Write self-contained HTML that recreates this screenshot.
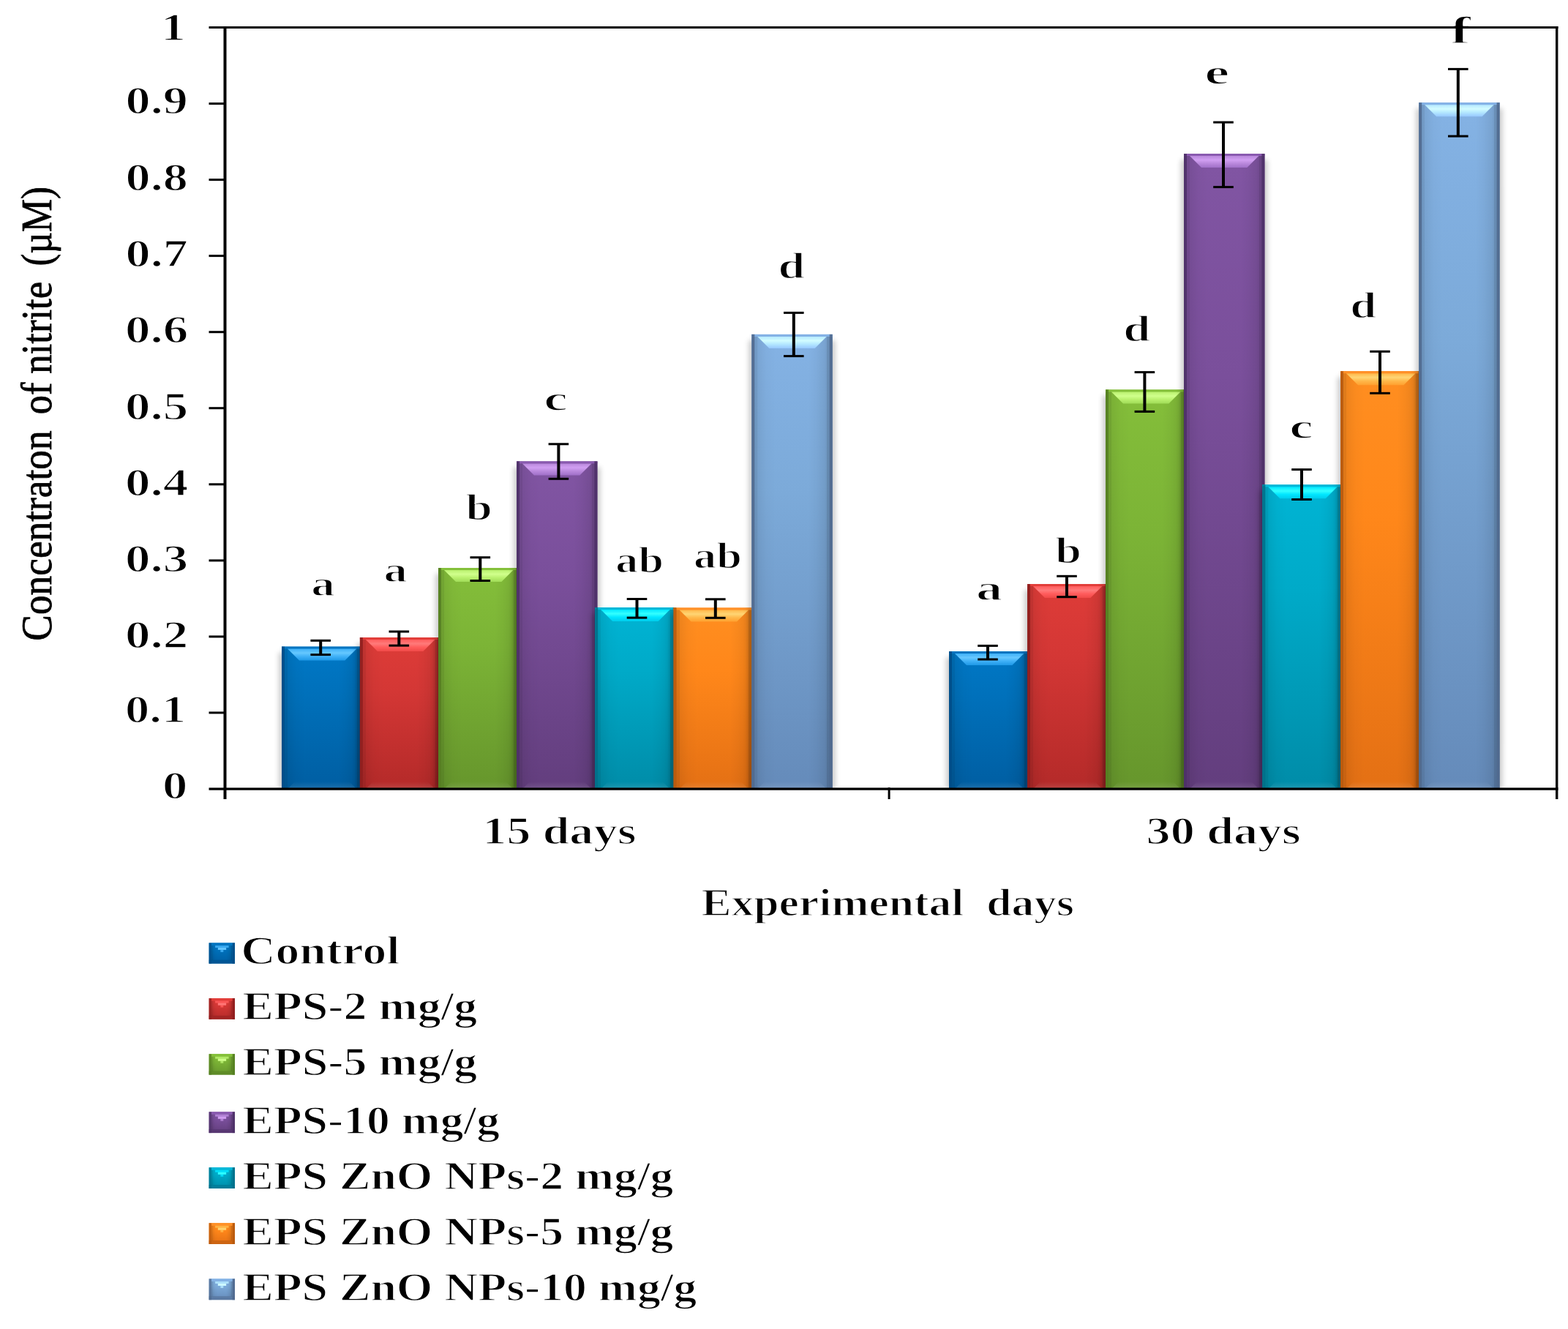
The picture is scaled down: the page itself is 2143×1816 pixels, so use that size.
<!DOCTYPE html>
<html><head><meta charset="utf-8"><title>Concentration of nitrite chart</title>
<style>
html,body{margin:0;padding:0;background:#fff;}
body{width:2143px;height:1816px;overflow:hidden;}
svg{display:block;}
text{font-family:"Liberation Serif","Times New Roman",serif;fill:#000;}
text.t{stroke:#fff;stroke-width:1.4px;stroke-linejoin:round;}
text.y{stroke:#000;stroke-width:0.7px;}
</style></head><body>
<svg width="2143" height="1816" viewBox="0 0 2143 1816">
<rect x="0" y="0" width="2143" height="1816" fill="#fff"/>
<defs>
<linearGradient id="v_blue" x1="0" y1="0" x2="0" y2="1"><stop offset="0" stop-color="#0078c6"/><stop offset="0.35" stop-color="#0070ba"/><stop offset="1" stop-color="#005ea2"/></linearGradient>
<linearGradient id="bv_blue" x1="0" y1="0" x2="0" y2="1"><stop offset="0" stop-color="#3fb0f7"/><stop offset="0.35" stop-color="#66c8ff"/><stop offset="0.65" stop-color="#3fb0f7"/><stop offset="1" stop-color="#1e98e6"/></linearGradient>
<linearGradient id="v_red" x1="0" y1="0" x2="0" y2="1"><stop offset="0" stop-color="#de3c38"/><stop offset="0.35" stop-color="#d43735"/><stop offset="1" stop-color="#b42a29"/></linearGradient>
<linearGradient id="bv_red" x1="0" y1="0" x2="0" y2="1"><stop offset="0" stop-color="#ff5c5c"/><stop offset="0.35" stop-color="#ff7a7a"/><stop offset="0.65" stop-color="#ff5c5c"/><stop offset="1" stop-color="#f04a48"/></linearGradient>
<linearGradient id="v_green" x1="0" y1="0" x2="0" y2="1"><stop offset="0" stop-color="#84be3a"/><stop offset="0.35" stop-color="#7cb436"/><stop offset="1" stop-color="#66962c"/></linearGradient>
<linearGradient id="bv_green" x1="0" y1="0" x2="0" y2="1"><stop offset="0" stop-color="#b9f06e"/><stop offset="0.35" stop-color="#d0ff8c"/><stop offset="0.65" stop-color="#b9f06e"/><stop offset="1" stop-color="#a0dc58"/></linearGradient>
<linearGradient id="v_purple" x1="0" y1="0" x2="0" y2="1"><stop offset="0" stop-color="#8155a3"/><stop offset="0.35" stop-color="#7a4f9b"/><stop offset="1" stop-color="#633e7e"/></linearGradient>
<linearGradient id="bv_purple" x1="0" y1="0" x2="0" y2="1"><stop offset="0" stop-color="#b988dc"/><stop offset="0.35" stop-color="#d19ff2"/><stop offset="0.65" stop-color="#b988dc"/><stop offset="1" stop-color="#a070c8"/></linearGradient>
<linearGradient id="v_cyan" x1="0" y1="0" x2="0" y2="1"><stop offset="0" stop-color="#00b4d4"/><stop offset="0.35" stop-color="#00aac8"/><stop offset="1" stop-color="#008ca8"/></linearGradient>
<linearGradient id="bv_cyan" x1="0" y1="0" x2="0" y2="1"><stop offset="0" stop-color="#00e6ff"/><stop offset="0.35" stop-color="#33ffff"/><stop offset="0.65" stop-color="#00e6ff"/><stop offset="1" stop-color="#00ccec"/></linearGradient>
<linearGradient id="v_orange" x1="0" y1="0" x2="0" y2="1"><stop offset="0" stop-color="#ff8e20"/><stop offset="0.35" stop-color="#ff871a"/><stop offset="1" stop-color="#e47014"/></linearGradient>
<linearGradient id="bv_orange" x1="0" y1="0" x2="0" y2="1"><stop offset="0" stop-color="#ffb84a"/><stop offset="0.35" stop-color="#ffd574"/><stop offset="0.65" stop-color="#ffb84a"/><stop offset="1" stop-color="#ffa030"/></linearGradient>
<linearGradient id="v_lblue" x1="0" y1="0" x2="0" y2="1"><stop offset="0" stop-color="#84b2e4"/><stop offset="0.35" stop-color="#7caad9"/><stop offset="1" stop-color="#658bba"/></linearGradient>
<linearGradient id="bv_lblue" x1="0" y1="0" x2="0" y2="1"><stop offset="0" stop-color="#b4e8ff"/><stop offset="0.35" stop-color="#d2fcff"/><stop offset="0.65" stop-color="#b4e8ff"/><stop offset="1" stop-color="#98c8ff"/></linearGradient>
<linearGradient id="hshade" x1="0" y1="0" x2="1" y2="0">
<stop offset="0.036" stop-color="#000" stop-opacity="0.13"/>
<stop offset="0.072" stop-color="#000" stop-opacity="0.13"/>
<stop offset="0.075" stop-color="#000" stop-opacity="0.07"/>
<stop offset="0.18" stop-color="#000" stop-opacity="0.02"/>
<stop offset="0.3" stop-color="#000" stop-opacity="0"/>
<stop offset="0.7" stop-color="#000" stop-opacity="0"/>
<stop offset="0.8" stop-color="#000" stop-opacity="0.03"/>
<stop offset="0.9" stop-color="#000" stop-opacity="0.08"/>
<stop offset="0.93" stop-color="#000" stop-opacity="0.12"/>
<stop offset="0.932" stop-color="#000" stop-opacity="0.2"/>
<stop offset="0.965" stop-color="#000" stop-opacity="0.2"/>
</linearGradient>
<linearGradient id="bbev" x1="0" y1="0" x2="0" y2="1"><stop offset="0" stop-color="#fff" stop-opacity="0"/><stop offset="1" stop-color="#fff" stop-opacity="0.12"/></linearGradient>
<filter id="shadow" x="-0.2" y="-0.05" width="1.4" height="1.1"><feGaussianBlur stdDeviation="3.5"/></filter>
<clipPath id="plotclip"><rect x="309" y="39" width="1817" height="1037.5"/></clipPath>
</defs>
<rect x="381.0" y="891.6" width="118.4" height="186.4" fill="#000" opacity="0.2" filter="url(#shadow)" clip-path="url(#plotclip)"/>
<rect x="385.0" y="883.6" width="110.4" height="194.4" fill="url(#v_blue)"/>
<rect x="385.0" y="883.6" width="110.4" height="194.4" fill="url(#hshade)"/>
<rect x="385.0" y="883.6" width="110.4" height="3" fill="#0074c0"/>
<polygon points="393.0,886.6 487.4,886.6 471.4,902.6 409.0,902.6" fill="url(#bv_blue)"/>
<polygon points="403.0,1068.0 477.4,1068.0 487.4,1078.0 393.0,1078.0" fill="url(#bbev)"/>
<rect x="385.0" y="883.6" width="4" height="194.4" fill="#004e88" opacity="0.9"/>
<rect x="491.4" y="883.6" width="4" height="194.4" fill="#004e88" opacity="0.9"/>
<rect x="487.9" y="879.0" width="118.4" height="199.0" fill="#000" opacity="0.2" filter="url(#shadow)" clip-path="url(#plotclip)"/>
<rect x="491.9" y="871.0" width="110.4" height="207.0" fill="url(#v_red)"/>
<rect x="491.9" y="871.0" width="110.4" height="207.0" fill="url(#hshade)"/>
<rect x="491.9" y="871.0" width="110.4" height="3" fill="#e23e3a"/>
<polygon points="499.9,874.0 594.3,874.0 578.3,890.0 515.9,890.0" fill="url(#bv_red)"/>
<polygon points="509.9,1068.0 584.3,1068.0 594.3,1078.0 499.9,1078.0" fill="url(#bbev)"/>
<rect x="491.9" y="871.0" width="4" height="207.0" fill="#8f1f1f" opacity="0.9"/>
<rect x="598.3" y="871.0" width="4" height="207.0" fill="#8f1f1f" opacity="0.9"/>
<rect x="595.0" y="784.0" width="118.4" height="294.0" fill="#000" opacity="0.2" filter="url(#shadow)" clip-path="url(#plotclip)"/>
<rect x="599.0" y="776.0" width="110.4" height="302.0" fill="url(#v_green)"/>
<rect x="599.0" y="776.0" width="110.4" height="302.0" fill="url(#hshade)"/>
<rect x="599.0" y="776.0" width="110.4" height="3" fill="#84c03a"/>
<polygon points="607.0,779.0 701.4,779.0 685.4,795.0 623.0,795.0" fill="url(#bv_green)"/>
<polygon points="617.0,1068.0 691.4,1068.0 701.4,1078.0 607.0,1078.0" fill="url(#bbev)"/>
<rect x="599.0" y="776.0" width="4" height="302.0" fill="#557f22" opacity="0.9"/>
<rect x="705.4" y="776.0" width="4" height="302.0" fill="#557f22" opacity="0.9"/>
<rect x="702.0" y="638.4" width="118.4" height="439.6" fill="#000" opacity="0.2" filter="url(#shadow)" clip-path="url(#plotclip)"/>
<rect x="706.0" y="630.4" width="110.4" height="447.6" fill="url(#v_purple)"/>
<rect x="706.0" y="630.4" width="110.4" height="447.6" fill="url(#hshade)"/>
<rect x="706.0" y="630.4" width="110.4" height="3" fill="#8a5ab0"/>
<polygon points="714.0,633.4 808.4,633.4 792.4,649.4 730.0,649.4" fill="url(#bv_purple)"/>
<polygon points="724.0,1068.0 798.4,1068.0 808.4,1078.0 714.0,1078.0" fill="url(#bbev)"/>
<rect x="706.0" y="630.4" width="4" height="447.6" fill="#4e3168" opacity="0.9"/>
<rect x="812.4" y="630.4" width="4" height="447.6" fill="#4e3168" opacity="0.9"/>
<rect x="809.2" y="838.0" width="118.4" height="240.0" fill="#000" opacity="0.2" filter="url(#shadow)" clip-path="url(#plotclip)"/>
<rect x="813.2" y="830.0" width="110.4" height="248.0" fill="url(#v_cyan)"/>
<rect x="813.2" y="830.0" width="110.4" height="248.0" fill="url(#hshade)"/>
<rect x="813.2" y="830.0" width="110.4" height="3" fill="#00b8d8"/>
<polygon points="821.2,833.0 915.6,833.0 899.6,849.0 837.2,849.0" fill="url(#bv_cyan)"/>
<polygon points="831.2,1068.0 905.6,1068.0 915.6,1078.0 821.2,1078.0" fill="url(#bbev)"/>
<rect x="813.2" y="830.0" width="4" height="248.0" fill="#00708a" opacity="0.9"/>
<rect x="919.6" y="830.0" width="4" height="248.0" fill="#00708a" opacity="0.9"/>
<rect x="916.6" y="838.5" width="118.4" height="239.5" fill="#000" opacity="0.2" filter="url(#shadow)" clip-path="url(#plotclip)"/>
<rect x="920.6" y="830.5" width="110.4" height="247.5" fill="url(#v_orange)"/>
<rect x="920.6" y="830.5" width="110.4" height="247.5" fill="url(#hshade)"/>
<rect x="920.6" y="830.5" width="110.4" height="3" fill="#ff9028"/>
<polygon points="928.6,833.5 1023.0,833.5 1007.0,849.5 944.6,849.5" fill="url(#bv_orange)"/>
<polygon points="938.6,1068.0 1013.0,1068.0 1023.0,1078.0 928.6,1078.0" fill="url(#bbev)"/>
<rect x="920.6" y="830.5" width="4" height="247.5" fill="#b85a0e" opacity="0.9"/>
<rect x="1027.0" y="830.5" width="4" height="247.5" fill="#b85a0e" opacity="0.9"/>
<rect x="1023.3" y="464.9" width="118.4" height="613.1" fill="#000" opacity="0.2" filter="url(#shadow)" clip-path="url(#plotclip)"/>
<rect x="1027.3" y="456.9" width="110.4" height="621.1" fill="url(#v_lblue)"/>
<rect x="1027.3" y="456.9" width="110.4" height="621.1" fill="url(#hshade)"/>
<rect x="1027.3" y="456.9" width="110.4" height="3" fill="#84b2e6"/>
<polygon points="1035.3,459.9 1129.7,459.9 1113.7,475.9 1051.3,475.9" fill="url(#bv_lblue)"/>
<polygon points="1045.3,1068.0 1119.7,1068.0 1129.7,1078.0 1035.3,1078.0" fill="url(#bbev)"/>
<rect x="1027.3" y="456.9" width="4" height="621.1" fill="#50698e" opacity="0.9"/>
<rect x="1133.7" y="456.9" width="4" height="621.1" fill="#50698e" opacity="0.9"/>
<rect x="1293.0" y="898.0" width="118.4" height="180.0" fill="#000" opacity="0.2" filter="url(#shadow)" clip-path="url(#plotclip)"/>
<rect x="1297.0" y="890.0" width="110.4" height="188.0" fill="url(#v_blue)"/>
<rect x="1297.0" y="890.0" width="110.4" height="188.0" fill="url(#hshade)"/>
<rect x="1297.0" y="890.0" width="110.4" height="3" fill="#0074c0"/>
<polygon points="1305.0,893.0 1399.4,893.0 1383.4,909.0 1321.0,909.0" fill="url(#bv_blue)"/>
<polygon points="1315.0,1068.0 1389.4,1068.0 1399.4,1078.0 1305.0,1078.0" fill="url(#bbev)"/>
<rect x="1297.0" y="890.0" width="4" height="188.0" fill="#004e88" opacity="0.9"/>
<rect x="1403.4" y="890.0" width="4" height="188.0" fill="#004e88" opacity="0.9"/>
<rect x="1400.0" y="806.0" width="118.4" height="272.0" fill="#000" opacity="0.2" filter="url(#shadow)" clip-path="url(#plotclip)"/>
<rect x="1404.0" y="798.0" width="110.4" height="280.0" fill="url(#v_red)"/>
<rect x="1404.0" y="798.0" width="110.4" height="280.0" fill="url(#hshade)"/>
<rect x="1404.0" y="798.0" width="110.4" height="3" fill="#e23e3a"/>
<polygon points="1412.0,801.0 1506.4,801.0 1490.4,817.0 1428.0,817.0" fill="url(#bv_red)"/>
<polygon points="1422.0,1068.0 1496.4,1068.0 1506.4,1078.0 1412.0,1078.0" fill="url(#bbev)"/>
<rect x="1404.0" y="798.0" width="4" height="280.0" fill="#8f1f1f" opacity="0.9"/>
<rect x="1510.4" y="798.0" width="4" height="280.0" fill="#8f1f1f" opacity="0.9"/>
<rect x="1507.0" y="540.5" width="118.4" height="537.5" fill="#000" opacity="0.2" filter="url(#shadow)" clip-path="url(#plotclip)"/>
<rect x="1511.0" y="532.5" width="110.4" height="545.5" fill="url(#v_green)"/>
<rect x="1511.0" y="532.5" width="110.4" height="545.5" fill="url(#hshade)"/>
<rect x="1511.0" y="532.5" width="110.4" height="3" fill="#84c03a"/>
<polygon points="1519.0,535.5 1613.4,535.5 1597.4,551.5 1535.0,551.5" fill="url(#bv_green)"/>
<polygon points="1529.0,1068.0 1603.4,1068.0 1613.4,1078.0 1519.0,1078.0" fill="url(#bbev)"/>
<rect x="1511.0" y="532.5" width="4" height="545.5" fill="#557f22" opacity="0.9"/>
<rect x="1617.4" y="532.5" width="4" height="545.5" fill="#557f22" opacity="0.9"/>
<rect x="1614.0" y="218.1" width="118.4" height="859.9" fill="#000" opacity="0.2" filter="url(#shadow)" clip-path="url(#plotclip)"/>
<rect x="1618.0" y="210.1" width="110.4" height="867.9" fill="url(#v_purple)"/>
<rect x="1618.0" y="210.1" width="110.4" height="867.9" fill="url(#hshade)"/>
<rect x="1618.0" y="210.1" width="110.4" height="3" fill="#8a5ab0"/>
<polygon points="1626.0,213.1 1720.4,213.1 1704.4,229.1 1642.0,229.1" fill="url(#bv_purple)"/>
<polygon points="1636.0,1068.0 1710.4,1068.0 1720.4,1078.0 1626.0,1078.0" fill="url(#bbev)"/>
<rect x="1618.0" y="210.1" width="4" height="867.9" fill="#4e3168" opacity="0.9"/>
<rect x="1724.4" y="210.1" width="4" height="867.9" fill="#4e3168" opacity="0.9"/>
<rect x="1721.3" y="670.3" width="118.4" height="407.7" fill="#000" opacity="0.2" filter="url(#shadow)" clip-path="url(#plotclip)"/>
<rect x="1725.3" y="662.3" width="110.4" height="415.7" fill="url(#v_cyan)"/>
<rect x="1725.3" y="662.3" width="110.4" height="415.7" fill="url(#hshade)"/>
<rect x="1725.3" y="662.3" width="110.4" height="3" fill="#00b8d8"/>
<polygon points="1733.3,665.3 1827.7,665.3 1811.7,681.3 1749.3,681.3" fill="url(#bv_cyan)"/>
<polygon points="1743.3,1068.0 1817.7,1068.0 1827.7,1078.0 1733.3,1078.0" fill="url(#bbev)"/>
<rect x="1725.3" y="662.3" width="4" height="415.7" fill="#00708a" opacity="0.9"/>
<rect x="1831.7" y="662.3" width="4" height="415.7" fill="#00708a" opacity="0.9"/>
<rect x="1828.0" y="515.2" width="118.4" height="562.8" fill="#000" opacity="0.2" filter="url(#shadow)" clip-path="url(#plotclip)"/>
<rect x="1832.0" y="507.2" width="110.4" height="570.8" fill="url(#v_orange)"/>
<rect x="1832.0" y="507.2" width="110.4" height="570.8" fill="url(#hshade)"/>
<rect x="1832.0" y="507.2" width="110.4" height="3" fill="#ff9028"/>
<polygon points="1840.0,510.2 1934.4,510.2 1918.4,526.2 1856.0,526.2" fill="url(#bv_orange)"/>
<polygon points="1850.0,1068.0 1924.4,1068.0 1934.4,1078.0 1840.0,1078.0" fill="url(#bbev)"/>
<rect x="1832.0" y="507.2" width="4" height="570.8" fill="#b85a0e" opacity="0.9"/>
<rect x="1938.4" y="507.2" width="4" height="570.8" fill="#b85a0e" opacity="0.9"/>
<rect x="1935.2" y="148.2" width="118.4" height="929.8" fill="#000" opacity="0.2" filter="url(#shadow)" clip-path="url(#plotclip)"/>
<rect x="1939.2" y="140.2" width="110.4" height="937.8" fill="url(#v_lblue)"/>
<rect x="1939.2" y="140.2" width="110.4" height="937.8" fill="url(#hshade)"/>
<rect x="1939.2" y="140.2" width="110.4" height="3" fill="#84b2e6"/>
<polygon points="1947.2,143.2 2041.6,143.2 2025.6,159.2 1963.2,159.2" fill="url(#bv_lblue)"/>
<polygon points="1957.2,1068.0 2031.6,1068.0 2041.6,1078.0 1947.2,1078.0" fill="url(#bbev)"/>
<rect x="1939.2" y="140.2" width="4" height="937.8" fill="#50698e" opacity="0.9"/>
<rect x="2045.6" y="140.2" width="4" height="937.8" fill="#50698e" opacity="0.9"/>
<text class="t" x="220.02" y="55.20" font-size="53" font-weight="bold" textLength="33.92" lengthAdjust="spacingAndGlyphs">1</text>
<text class="t" x="171.52" y="155.34" font-size="53" font-weight="bold" textLength="85.36" lengthAdjust="spacingAndGlyphs">0.9</text>
<text class="t" x="171.52" y="259.54" font-size="53" font-weight="bold" textLength="85.36" lengthAdjust="spacingAndGlyphs">0.8</text>
<text class="t" x="171.52" y="364.04" font-size="53" font-weight="bold" textLength="85.36" lengthAdjust="spacingAndGlyphs">0.7</text>
<text class="t" x="170.99" y="468.34" font-size="53" font-weight="bold" textLength="86.32" lengthAdjust="spacingAndGlyphs">0.6</text>
<text class="t" x="170.99" y="572.64" font-size="53" font-weight="bold" textLength="86.32" lengthAdjust="spacingAndGlyphs">0.5</text>
<text class="t" x="170.99" y="677.04" font-size="53" font-weight="bold" textLength="86.32" lengthAdjust="spacingAndGlyphs">0.4</text>
<text class="t" x="170.99" y="781.44" font-size="53" font-weight="bold" textLength="86.32" lengthAdjust="spacingAndGlyphs">0.3</text>
<text class="t" x="170.99" y="885.44" font-size="53" font-weight="bold" textLength="86.32" lengthAdjust="spacingAndGlyphs">0.2</text>
<text class="t" x="171.09" y="987.24" font-size="53" font-weight="bold" textLength="83.08" lengthAdjust="spacingAndGlyphs">0.1</text>
<text class="t" x="222.10" y="1091.44" font-size="53" font-weight="bold" textLength="34.40" lengthAdjust="spacingAndGlyphs">0</text>
<text class="t" x="425.20" y="813.82" font-size="48.1" font-weight="bold" textLength="32.56" lengthAdjust="spacingAndGlyphs">a</text>
<text class="t" x="524.41" y="794.82" font-size="47.9" font-weight="bold" textLength="32.33" lengthAdjust="spacingAndGlyphs">a</text>
<text class="t" x="636.60" y="709.58" font-size="51.7" font-weight="bold" textLength="36.32" lengthAdjust="spacingAndGlyphs">b</text>
<text class="t" x="743.15" y="560.62" font-size="47.7" font-weight="bold" textLength="32.55" lengthAdjust="spacingAndGlyphs">c</text>
<text class="t" x="841.39" y="781.89" font-size="50.6" font-weight="bold" textLength="65.51" lengthAdjust="spacingAndGlyphs">ab</text>
<text class="t" x="947.98" y="776.29" font-size="51.1" font-weight="bold" textLength="65.83" lengthAdjust="spacingAndGlyphs">ab</text>
<text class="t" x="1063.61" y="380.40" font-size="50.3" font-weight="bold" textLength="36.71" lengthAdjust="spacingAndGlyphs">d</text>
<text class="t" x="1333.98" y="819.92" font-size="47.9" font-weight="bold" textLength="36.22" lengthAdjust="spacingAndGlyphs">a</text>
<text class="t" x="1442.21" y="769.48" font-size="51.7" font-weight="bold" textLength="35.67" lengthAdjust="spacingAndGlyphs">b</text>
<text class="t" x="1535.28" y="465.78" font-size="51.6" font-weight="bold" textLength="37.16" lengthAdjust="spacingAndGlyphs">d</text>
<text class="t" x="1646.25" y="114.82" font-size="48.1" font-weight="bold" textLength="34.03" lengthAdjust="spacingAndGlyphs">e</text>
<text class="t" x="1762.37" y="598.81" font-size="48.5" font-weight="bold" textLength="32.33" lengthAdjust="spacingAndGlyphs">c</text>
<text class="t" x="1845.26" y="434.08" font-size="51.7" font-weight="bold" textLength="36.05" lengthAdjust="spacingAndGlyphs">d</text>
<text class="t" x="1981.80" y="58.72" font-size="51.9" font-weight="bold" textLength="28.37" lengthAdjust="spacingAndGlyphs">f</text>
<text class="t" x="659.59" y="1152.60" font-size="53" font-weight="bold" textLength="210.13" lengthAdjust="spacingAndGlyphs">15 days</text>
<text class="t" x="1566.61" y="1152.50" font-size="53" font-weight="bold" textLength="211.22" lengthAdjust="spacingAndGlyphs">30 days</text>
<text class="t" x="958.52" y="1250.60" font-size="53" font-weight="bold" textLength="509.35" lengthAdjust="spacingAndGlyphs">Experimental&#160;&#160;days</text>
<text class="y" transform="translate(70,873.5) rotate(-90) scale(1,1.1)" x="-2.13" y="0" font-size="54" textLength="287.26" lengthAdjust="spacingAndGlyphs">Concentraton</text>
<text class="y" transform="translate(70,564.1) rotate(-90) scale(1,1.1)" x="-2.10" y="0" font-size="54" textLength="43.77" lengthAdjust="spacingAndGlyphs">of</text>
<text class="y" transform="translate(70,509.7) rotate(-90) scale(1,1.1)" x="-1.05" y="0" font-size="54" textLength="125.87" lengthAdjust="spacingAndGlyphs">nitrite</text>
<text class="y" transform="translate(70,361.4) rotate(-90) scale(1,1.1)" x="-2.03" y="0" font-size="54" textLength="108.34" lengthAdjust="spacingAndGlyphs">(µM)</text>
<rect x="285.6" y="1288.4" width="35.4" height="28.3" fill="url(#v_blue)"/>
<rect x="289.1" y="1291.9" width="28.4" height="20.3" fill="url(#hshade)"/>
<rect x="285.6" y="1288.4" width="3.5" height="28.3" fill="#004e88" opacity="0.75"/>
<rect x="317.5" y="1288.4" width="3.5" height="28.3" fill="#004e88" opacity="0.95"/>
<rect x="289.1" y="1288.4" width="28.4" height="3.5" fill="#0074c0" opacity="0.9"/>
<rect x="285.6" y="1311.7" width="35.4" height="5" fill="#004e88" opacity="0.55"/>
<polygon points="294.1,1291.9 312.6,1291.9 312.6,1294.9 309.1,1294.9 309.1,1297.9 305.3,1297.9 305.3,1300.9 301.4,1300.9 301.4,1297.9 297.9,1297.9 297.9,1294.9 294.1,1294.9" fill="#3fb0f7" opacity="0.85"/>
<rect x="297.9" y="1294.9" width="11.2" height="3" fill="#66c8ff" opacity="0.9"/>
<text class="t" x="329.17" y="1317.20" font-size="54" font-weight="bold" textLength="217.26" lengthAdjust="spacingAndGlyphs">Control</text>
<rect x="285.6" y="1364.1" width="35.4" height="28.7" fill="url(#v_red)"/>
<rect x="289.1" y="1367.6" width="28.4" height="20.7" fill="url(#hshade)"/>
<rect x="285.6" y="1364.1" width="3.5" height="28.7" fill="#8f1f1f" opacity="0.75"/>
<rect x="317.5" y="1364.1" width="3.5" height="28.7" fill="#8f1f1f" opacity="0.95"/>
<rect x="289.1" y="1364.1" width="28.4" height="3.5" fill="#e23e3a" opacity="0.9"/>
<rect x="285.6" y="1387.8" width="35.4" height="5" fill="#8f1f1f" opacity="0.55"/>
<polygon points="294.1,1367.6 312.6,1367.6 312.6,1370.6 309.1,1370.6 309.1,1373.6 305.3,1373.6 305.3,1376.6 301.4,1376.6 301.4,1373.6 297.9,1373.6 297.9,1370.6 294.1,1370.6" fill="#ff5c5c" opacity="0.85"/>
<rect x="297.9" y="1370.6" width="11.2" height="3" fill="#ff7a7a" opacity="0.9"/>
<text class="t" x="331.17" y="1393.30" font-size="54" font-weight="bold" textLength="321.09" lengthAdjust="spacingAndGlyphs">EPS-2 mg/g</text>
<rect x="285.6" y="1440.2" width="35.4" height="28.4" fill="url(#v_green)"/>
<rect x="289.1" y="1443.7" width="28.4" height="20.4" fill="url(#hshade)"/>
<rect x="285.6" y="1440.2" width="3.5" height="28.4" fill="#557f22" opacity="0.75"/>
<rect x="317.5" y="1440.2" width="3.5" height="28.4" fill="#557f22" opacity="0.95"/>
<rect x="289.1" y="1440.2" width="28.4" height="3.5" fill="#84c03a" opacity="0.9"/>
<rect x="285.6" y="1463.6" width="35.4" height="5" fill="#557f22" opacity="0.55"/>
<polygon points="294.1,1443.7 312.6,1443.7 312.6,1446.7 309.1,1446.7 309.1,1449.7 305.3,1449.7 305.3,1452.7 301.4,1452.7 301.4,1449.7 297.9,1449.7 297.9,1446.7 294.1,1446.7" fill="#b9f06e" opacity="0.85"/>
<rect x="297.9" y="1446.7" width="11.2" height="3" fill="#d0ff8c" opacity="0.9"/>
<text class="t" x="331.17" y="1469.10" font-size="54" font-weight="bold" textLength="321.09" lengthAdjust="spacingAndGlyphs">EPS-5 mg/g</text>
<rect x="285.6" y="1519.3" width="35.4" height="28.8" fill="url(#v_purple)"/>
<rect x="289.1" y="1522.8" width="28.4" height="20.8" fill="url(#hshade)"/>
<rect x="285.6" y="1519.3" width="3.5" height="28.8" fill="#4e3168" opacity="0.75"/>
<rect x="317.5" y="1519.3" width="3.5" height="28.8" fill="#4e3168" opacity="0.95"/>
<rect x="289.1" y="1519.3" width="28.4" height="3.5" fill="#8a5ab0" opacity="0.9"/>
<rect x="285.6" y="1543.1" width="35.4" height="5" fill="#4e3168" opacity="0.55"/>
<polygon points="294.1,1522.8 312.6,1522.8 312.6,1525.8 309.1,1525.8 309.1,1528.8 305.3,1528.8 305.3,1531.8 301.4,1531.8 301.4,1528.8 297.9,1528.8 297.9,1525.8 294.1,1525.8" fill="#b988dc" opacity="0.85"/>
<rect x="297.9" y="1525.8" width="11.2" height="3" fill="#d19ff2" opacity="0.9"/>
<text class="t" x="331.18" y="1548.60" font-size="54" font-weight="bold" textLength="351.98" lengthAdjust="spacingAndGlyphs">EPS-10 mg/g</text>
<rect x="285.6" y="1595.3" width="35.4" height="28.7" fill="url(#v_cyan)"/>
<rect x="289.1" y="1598.8" width="28.4" height="20.7" fill="url(#hshade)"/>
<rect x="285.6" y="1595.3" width="3.5" height="28.7" fill="#00708a" opacity="0.75"/>
<rect x="317.5" y="1595.3" width="3.5" height="28.7" fill="#00708a" opacity="0.95"/>
<rect x="289.1" y="1595.3" width="28.4" height="3.5" fill="#00b8d8" opacity="0.9"/>
<rect x="285.6" y="1619.0" width="35.4" height="5" fill="#00708a" opacity="0.55"/>
<polygon points="294.1,1598.8 312.6,1598.8 312.6,1601.8 309.1,1601.8 309.1,1604.8 305.3,1604.8 305.3,1607.8 301.4,1607.8 301.4,1604.8 297.9,1604.8 297.9,1601.8 294.1,1601.8" fill="#00e6ff" opacity="0.85"/>
<rect x="297.9" y="1601.8" width="11.2" height="3" fill="#33ffff" opacity="0.9"/>
<text class="t" x="331.18" y="1624.50" font-size="54" font-weight="bold" textLength="589.28" lengthAdjust="spacingAndGlyphs">EPS ZnO NPs-2 mg/g</text>
<rect x="285.6" y="1671.2" width="35.4" height="28.8" fill="url(#v_orange)"/>
<rect x="289.1" y="1674.7" width="28.4" height="20.8" fill="url(#hshade)"/>
<rect x="285.6" y="1671.2" width="3.5" height="28.8" fill="#b85a0e" opacity="0.75"/>
<rect x="317.5" y="1671.2" width="3.5" height="28.8" fill="#b85a0e" opacity="0.95"/>
<rect x="289.1" y="1671.2" width="28.4" height="3.5" fill="#ff9028" opacity="0.9"/>
<rect x="285.6" y="1695.0" width="35.4" height="5" fill="#b85a0e" opacity="0.55"/>
<polygon points="294.1,1674.7 312.6,1674.7 312.6,1677.7 309.1,1677.7 309.1,1680.7 305.3,1680.7 305.3,1683.7 301.4,1683.7 301.4,1680.7 297.9,1680.7 297.9,1677.7 294.1,1677.7" fill="#ffb84a" opacity="0.85"/>
<rect x="297.9" y="1677.7" width="11.2" height="3" fill="#ffd574" opacity="0.9"/>
<text class="t" x="331.18" y="1700.50" font-size="54" font-weight="bold" textLength="589.28" lengthAdjust="spacingAndGlyphs">EPS ZnO NPs-5 mg/g</text>
<rect x="285.6" y="1747.4" width="35.4" height="28.8" fill="url(#v_lblue)"/>
<rect x="289.1" y="1750.9" width="28.4" height="20.8" fill="url(#hshade)"/>
<rect x="285.6" y="1747.4" width="3.5" height="28.8" fill="#50698e" opacity="0.75"/>
<rect x="317.5" y="1747.4" width="3.5" height="28.8" fill="#50698e" opacity="0.95"/>
<rect x="289.1" y="1747.4" width="28.4" height="3.5" fill="#84b2e6" opacity="0.9"/>
<rect x="285.6" y="1771.2" width="35.4" height="5" fill="#50698e" opacity="0.55"/>
<polygon points="294.1,1750.9 312.6,1750.9 312.6,1753.9 309.1,1753.9 309.1,1756.9 305.3,1756.9 305.3,1759.9 301.4,1759.9 301.4,1756.9 297.9,1756.9 297.9,1753.9 294.1,1753.9" fill="#b4e8ff" opacity="0.85"/>
<rect x="297.9" y="1753.9" width="11.2" height="3" fill="#d2fcff" opacity="0.9"/>
<text class="t" x="331.18" y="1776.70" font-size="54" font-weight="bold" textLength="621.18" lengthAdjust="spacingAndGlyphs">EPS ZnO NPs-10 mg/g</text>
<rect x="436.2" y="875.3" width="4" height="19.3" fill="#000"/>
<rect x="424.4" y="873.8" width="27.6" height="3" fill="#000"/>
<rect x="424.4" y="893.1" width="27.6" height="3" fill="#000"/>
<rect x="543.3" y="863.0" width="4" height="19.1" fill="#000"/>
<rect x="531.5" y="861.5" width="27.6" height="3" fill="#000"/>
<rect x="531.5" y="880.6" width="27.6" height="3" fill="#000"/>
<rect x="654.3" y="761.7" width="4" height="31.8" fill="#000"/>
<rect x="642.5" y="760.2" width="27.6" height="3" fill="#000"/>
<rect x="642.5" y="792.0" width="27.6" height="3" fill="#000"/>
<rect x="761.4" y="606.8" width="4" height="47.5" fill="#000"/>
<rect x="749.6" y="605.3" width="27.6" height="3" fill="#000"/>
<rect x="749.6" y="652.8" width="27.6" height="3" fill="#000"/>
<rect x="868.5" y="818.5" width="4" height="25.6" fill="#000"/>
<rect x="856.7" y="817.0" width="27.6" height="3" fill="#000"/>
<rect x="856.7" y="842.6" width="27.6" height="3" fill="#000"/>
<rect x="975.8" y="818.8" width="4" height="25.5" fill="#000"/>
<rect x="964.0" y="817.3" width="27.6" height="3" fill="#000"/>
<rect x="964.0" y="842.8" width="27.6" height="3" fill="#000"/>
<rect x="1082.8" y="427.4" width="4" height="59.2" fill="#000"/>
<rect x="1071.0" y="425.9" width="27.6" height="3" fill="#000"/>
<rect x="1071.0" y="485.1" width="27.6" height="3" fill="#000"/>
<rect x="1348.0" y="882.4" width="4" height="18.6" fill="#000"/>
<rect x="1336.2" y="880.9" width="27.6" height="3" fill="#000"/>
<rect x="1336.2" y="899.5" width="27.6" height="3" fill="#000"/>
<rect x="1456.0" y="787.3" width="4" height="28.4" fill="#000"/>
<rect x="1444.2" y="785.8" width="27.6" height="3" fill="#000"/>
<rect x="1444.2" y="814.2" width="27.6" height="3" fill="#000"/>
<rect x="1562.4" y="508.6" width="4" height="53.8" fill="#000"/>
<rect x="1550.6" y="507.1" width="27.6" height="3" fill="#000"/>
<rect x="1550.6" y="560.9" width="27.6" height="3" fill="#000"/>
<rect x="1670.0" y="167.1" width="4" height="88.5" fill="#000"/>
<rect x="1658.2" y="165.6" width="27.6" height="3" fill="#000"/>
<rect x="1658.2" y="254.1" width="27.6" height="3" fill="#000"/>
<rect x="1777.0" y="641.6" width="4" height="40.9" fill="#000"/>
<rect x="1765.2" y="640.1" width="27.6" height="3" fill="#000"/>
<rect x="1765.2" y="681.0" width="27.6" height="3" fill="#000"/>
<rect x="1884.0" y="480.3" width="4" height="57.0" fill="#000"/>
<rect x="1872.2" y="478.8" width="27.6" height="3" fill="#000"/>
<rect x="1872.2" y="535.8" width="27.6" height="3" fill="#000"/>
<rect x="1990.8" y="94.4" width="4" height="91.7" fill="#000"/>
<rect x="1979.0" y="92.9" width="27.6" height="3" fill="#000"/>
<rect x="1979.0" y="184.6" width="27.6" height="3" fill="#000"/>
<g fill="#000">
<rect x="285.5" y="36" width="1844" height="3"/>
<rect x="2126" y="36" width="3.4" height="1044"/>
<rect x="305.5" y="36" width="4" height="1056"/>
<rect x="285.5" y="1076.4" width="1841" height="3.3"/>
<rect x="1213.6" y="1076" width="3" height="16"/>
<rect x="2126" y="1076" width="3.4" height="16"/>
<rect x="285.5" y="140.1" width="21" height="3"/>
<rect x="285.5" y="244.1" width="21" height="3"/>
<rect x="285.5" y="348.1" width="21" height="3"/>
<rect x="285.5" y="452.2" width="21" height="3"/>
<rect x="285.5" y="556.2" width="21" height="3"/>
<rect x="285.5" y="660.3" width="21" height="3"/>
<rect x="285.5" y="764.4" width="21" height="3"/>
<rect x="285.5" y="868.4" width="21" height="3"/>
<rect x="285.5" y="972.4" width="21" height="3"/>
</g>
</svg></body></html>
